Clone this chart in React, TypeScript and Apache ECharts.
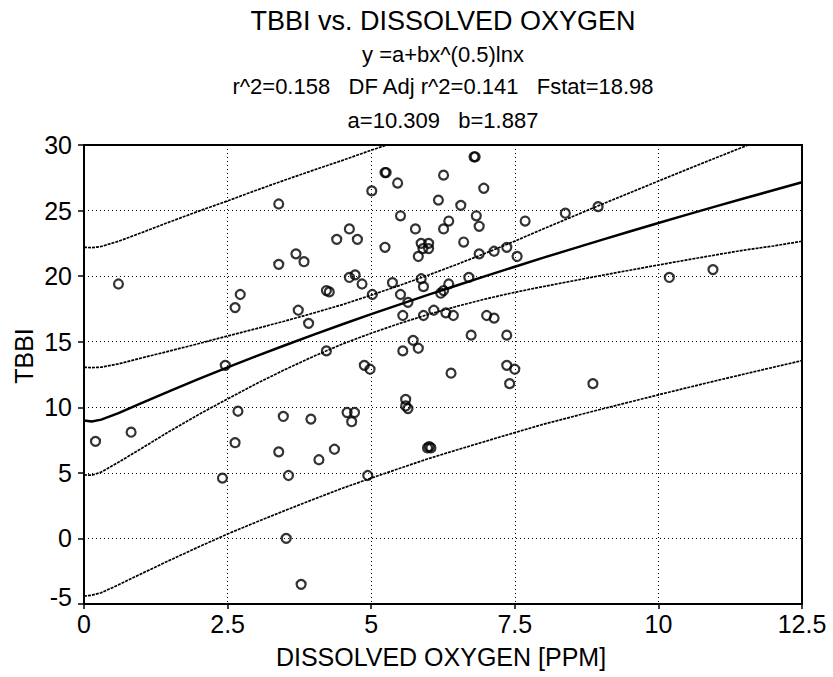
import React, { useEffect, useRef } from "react";
import * as echarts from "echarts";

const FONT = '"Liberation Sans", Arial, Helvetica, sans-serif';

// Observed data: dissolved oxygen (PPM) and TBBI
const doX = [
  3.39, 0.6, 4.4, 4.62, 3.69, 3.83, 3.39, 4.62, 2.72, 2.63,
  4.22, 4.27, 3.73, 3.91, 2.46, 4.22, 5.01, 5.24, 5.26, 5.46,
  6.26, 6.79, 6.81, 6.96, 6.17, 6.56, 5.51, 6.83, 6.35, 7.68,
  8.38, 5.77, 6.26, 6.88, 4.76, 5.24, 5.87, 6.0, 5.9, 6.0,
  5.82, 6.61, 6.88, 7.14, 7.36, 7.54, 4.72, 4.84, 5.02, 5.37,
  5.87, 5.91, 5.51, 5.64, 6.21, 6.26, 6.35, 6.7, 5.55, 5.91,
  6.09, 6.3, 6.43, 7.01, 7.14, 6.74, 7.36, 5.73, 5.55, 5.82,
  4.88, 4.98, 6.39, 7.36, 7.5, 8.95, 10.19, 10.95, 2.68, 3.47,
  3.95, 4.58, 4.71, 4.66, 0.82, 0.2, 2.63, 3.39, 4.36, 4.09,
  2.41, 3.56, 3.52, 3.78, 7.41, 5.6, 5.6, 5.64, 5.98, 6.04,
  6.01, 4.94, 8.86,
];
const tbbi = [
  25.5, 19.4, 22.8, 23.6, 21.7, 21.1, 20.9, 19.9, 18.6, 17.6,
  18.9, 18.8, 17.4, 16.4, 13.2, 14.3, 26.5, 27.9, 27.9, 27.1,
  27.7, 29.1, 29.1, 26.7, 25.8, 25.4, 24.6, 24.6, 24.2, 24.2,
  24.8, 23.6, 23.6, 23.8, 22.8, 22.2, 22.5, 22.5, 22.1, 22.1,
  21.5, 22.6, 21.7, 21.9, 22.2, 21.5, 20.1, 19.4, 18.6, 19.5,
  19.8, 19.2, 18.6, 18.0, 18.7, 18.9, 19.4, 19.9, 17.0, 17.0,
  17.4, 17.2, 17.0, 17.0, 16.8, 15.5, 15.5, 15.1, 14.3, 14.5,
  13.2, 12.9, 12.6, 13.2, 12.9, 25.3, 19.9, 20.5, 9.7, 9.3,
  9.1, 9.6, 9.6, 8.9, 8.1, 7.4, 7.3, 6.6, 6.8, 6.0,
  4.6, 4.8, 0.0, -3.5, 11.8, 10.6, 10.1, 9.9, 6.9, 6.9,
  7.0, 4.8, 11.8,
];

// Curves
const curveX = [
  0, 0.135, 0.3, 0.6, 1, 1.5, 2, 2.5, 3, 3.5, 4, 4.5, 5, 5.5, 6, 6.5, 7,
  7.5, 8, 8.5, 9, 9.5, 10, 10.5, 11, 11.5, 12, 12.5,
];
const fitY = [
  9.0, 8.92, 9.06, 9.56, 10.31, 11.25, 12.16, 13.04, 13.9, 14.73, 15.54,
  16.33, 17.1, 17.85, 18.59, 19.31, 20.02, 20.72, 21.41, 22.08, 22.75, 23.4,
  24.05, 24.69, 25.32, 25.94, 26.55, 27.16,
];
const upperConf = [
  13.05, 13.02, 13.06, 13.31, 13.76, 14.3, 14.86, 15.44, 16.0, 16.58, 17.19,
  17.83, 18.55, 19.3, 20.09, 20.91, 21.77, 22.67, 23.61, 24.53, 25.45, 26.35,
  27.25, 28.14, 29.02, 29.89, 30.8, 31.7,
];
const lowerConf = [
  4.85, 4.82, 5.06, 5.81, 6.86, 8.2, 9.46, 10.64, 11.8, 12.88, 13.89, 14.83,
  15.65, 16.4, 17.09, 17.71, 18.27, 18.77, 19.21, 19.63, 20.05, 20.45, 20.85,
  21.24, 21.62, 21.99, 22.3, 22.66,
];
const upperPred = [
  22.2, 22.17, 22.26, 22.66, 23.31, 24.15, 24.96, 25.74, 26.55, 27.33, 28.09,
  28.83, 29.6, 30.35, 31.09, 31.86, 32.62, 33.37, 34.11, 34.88, 35.65, 36.4,
  37.15, 37.89, 38.62, 39.34, 40.05, 40.76,
];
const lowerPred = [
  -4.4, -4.33, -4.14, -3.54, -2.69, -1.65, -0.64, 0.34, 1.25, 2.13, 2.99,
  3.83, 4.6, 5.35, 6.09, 6.76, 7.42, 8.07, 8.71, 9.28, 9.85, 10.4, 10.95,
  11.49, 12.02, 12.54, 13.05, 13.56,
];

const titleLines = [
  "TBBI vs. DISSOLVED OXYGEN",
  "y =a+bx^(0.5)lnx",
  "r^2=0.158   DF Adj r^2=0.141   Fstat=18.98",
  "a=10.309   b=1.887",
];

const pairs = (xs: number[], ys: number[]) => xs.map((x, i) => [x, ys[i]]);

const bandStyle = { color: "#000", width: 1.7, type: [3, 1] as number[] };

function buildOption() {
  const lineSeries = (data: number[][], lineStyle: any) => ({
    type: "line",
    data,
    symbol: "none",
    showSymbol: false,
    silent: true,
    clip: true,
    lineStyle,
    z: 2,
  });
  const titleY = [21, 54, 86, 120];
  const titleSize = [27, 22, 22, 22];
  return {
    animation: false,
    backgroundColor: "#fff",
    grid: {
      left: 84,
      right: 31,
      top: 145,
      bottom: 73,
      show: true,
      borderColor: "#000",
      borderWidth: 2,
      backgroundColor: "transparent",
    },
    xAxis: {
      type: "value",
      min: 0,
      max: 12.5,
      interval: 2.5,
      axisLine: { show: true, onZero: false, lineStyle: { color: "#000", width: 2 } },
      axisTick: { show: true, length: 5, lineStyle: { color: "#000", width: 1.5 } },
      axisLabel: { fontSize: 25, color: "#000", fontFamily: FONT, margin: 7 },
      splitLine: { show: true, lineStyle: { color: "#000", width: 1, type: [1, 3] } },
    },
    yAxis: {
      type: "value",
      min: -5,
      max: 30,
      interval: 5,
      axisLine: { show: true, onZero: false, lineStyle: { color: "#000", width: 2 } },
      axisTick: { show: true, length: 6, lineStyle: { color: "#000", width: 1.5 } },
      axisLabel: {
        fontSize: 25,
        color: "#000",
        fontFamily: FONT,
        margin: 12,
        formatter: (v: number) => (v === -5 ? "{lo|-5}" : String(v)),
        rich: {
          lo: { fontSize: 25, fontFamily: FONT, color: "#000", padding: [0, 0, 14, 0] },
        },
      },
      splitLine: { show: true, lineStyle: { color: "#000", width: 1, type: [1, 3] } },
    },
    graphic: [
      ...titleLines.map((t, i) => ({
        type: "text",
        x: 443,
        y: titleY[i],
        silent: true,
        style: {
          text: t,
          fontSize: titleSize[i],
          fontFamily: FONT,
          fill: "#000",
          align: "center",
          verticalAlign: "middle",
        },
      })),
      {
        type: "text",
        x: 441,
        y: 657,
        silent: true,
        style: {
          text: "DISSOLVED OXYGEN [PPM]",
          fontSize: 25,
          fontFamily: FONT,
          fill: "#000",
          align: "center",
          verticalAlign: "middle",
        },
      },
      {
        type: "text",
        x: 24,
        y: 356,
        rotation: Math.PI / 2,
        silent: true,
        style: {
          text: "TBBI",
          fontSize: 25,
          fontFamily: FONT,
          fill: "#000",
          align: "center",
          verticalAlign: "middle",
        },
      },
    ],
    series: [
      lineSeries(pairs(curveX, upperPred), bandStyle),
      lineSeries(pairs(curveX, lowerPred), bandStyle),
      lineSeries(pairs(curveX, upperConf), bandStyle),
      lineSeries(pairs(curveX, lowerConf), bandStyle),
      lineSeries(pairs(curveX, fitY), { color: "#000", width: 2.5, type: "solid" }),
      {
        type: "scatter",
        data: pairs(doX, tbbi),
        symbol: "circle",
        symbolSize: 9,
        silent: true,
        itemStyle: { color: "rgba(0,0,0,0)", borderColor: "#000", borderWidth: 2.2 },
        z: 3,
      },
    ],
  };
}

export default function App() {
  const ref = useRef<HTMLDivElement>(null);
  useEffect(() => {
    document.body.style.margin = "0";
    const chart = echarts.init(ref.current as HTMLDivElement, null, { renderer: "svg" });
    chart.setOption(buildOption() as any);
    return () => chart.dispose();
  }, []);
  return <div ref={ref} style={{ width: 833, height: 677, background: "#fff" }} />;
}
